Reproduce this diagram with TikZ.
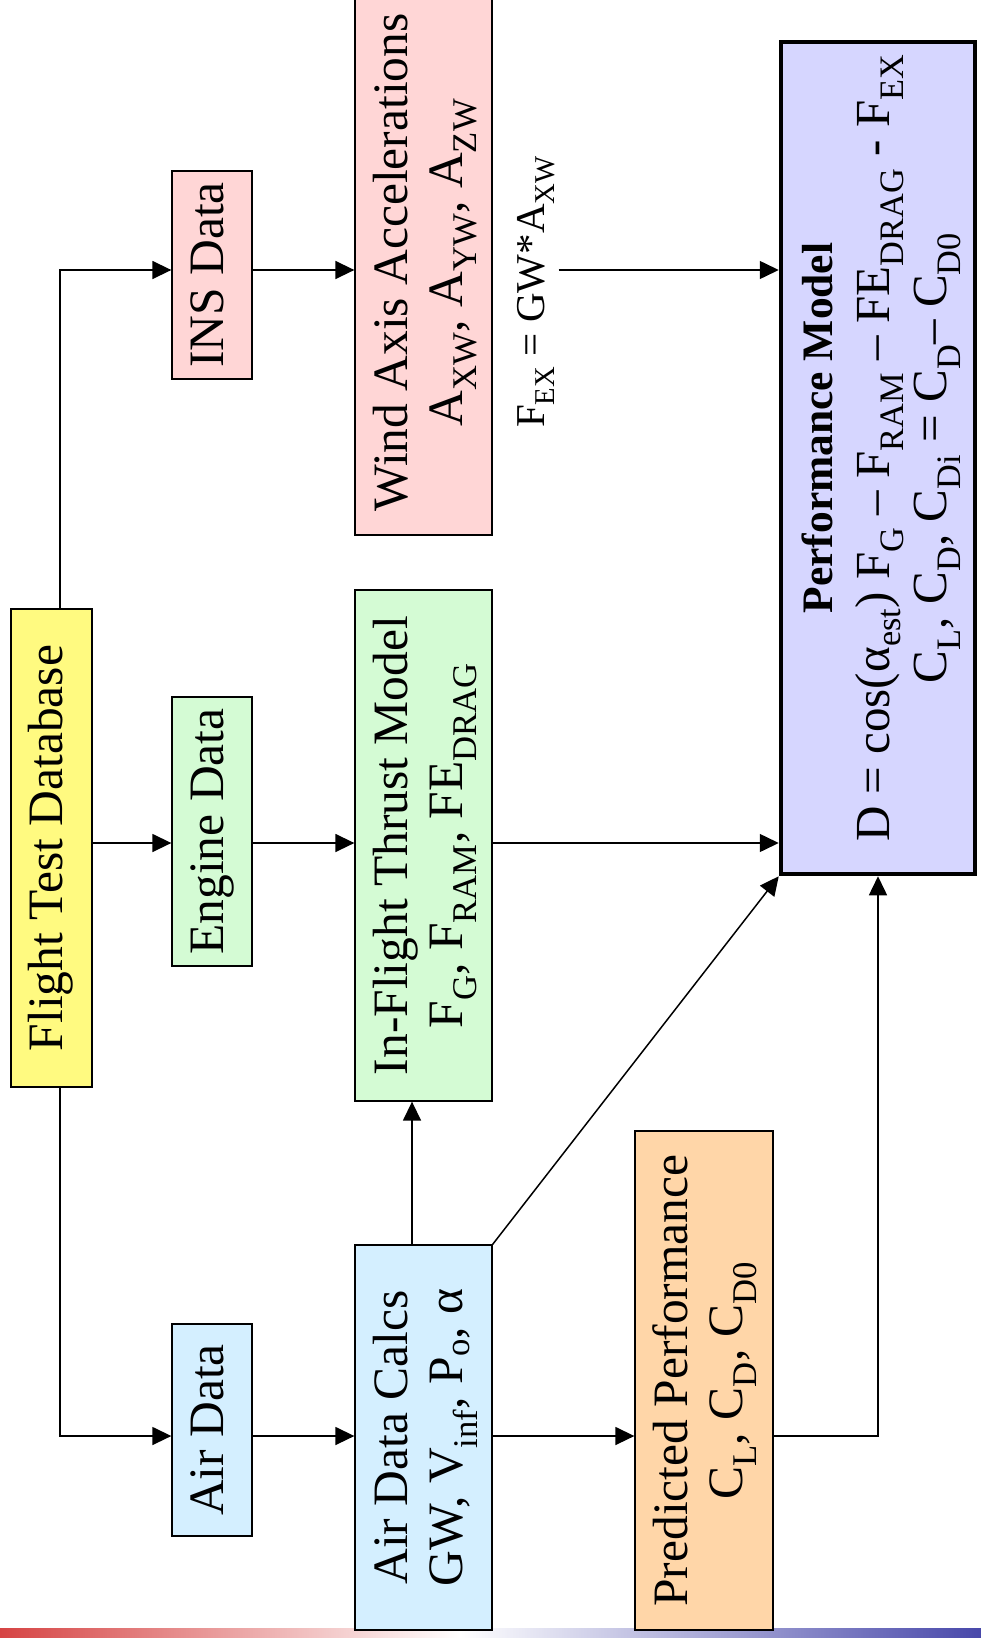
\documentclass[tikz,border=0pt]{standalone}
\usepackage{fontspec}
\setmainfont{Liberation Serif}
\usepackage{graphicx}
\usetikzlibrary{arrows.meta,calc}
\definecolor{cYellow}{RGB}{255,250,128}
\definecolor{cPink}{RGB}{255,214,214}
\definecolor{cGreen}{RGB}{212,251,212}
\definecolor{cBlue}{RGB}{212,239,255}
\definecolor{cPeach}{RGB}{255,214,168}
\definecolor{cLav}{RGB}{214,214,255}
\definecolor{barRed}{RGB}{214,68,68}
\definecolor{barBlue}{RGB}{72,72,170}
\newcommand\sbt[1]{\textsubscript{#1}}
\newcommand\vtext[1]{\rotatebox{90}{\begin{tabular}{@{}c@{}}#1\end{tabular}}}
\begin{document}
\begin{tikzpicture}[x=1pt,y=-1pt,
  box/.style={draw=black, line width=1.3pt, inner sep=0pt, font=\fontsize{49.5}{55}\selectfont},
  arr/.style={line width=1.5pt, -{Triangle[length=19pt,width=18pt]}}]
\useasboundingbox (0,0) rectangle (981,1638);
% bottom gradient bar
\shade[left color=barRed, right color=white] (0,1628) rectangle (460,1638);
\shade[left color=white, right color=barBlue] (460,1628) rectangle (981,1638);
% connector levels
\coordinate (ftdx) at (60,0);
\coordinate (adcx) at (412,0);
\coordinate (yIns) at (0,270);
\coordinate (yEng) at (0,843);
\coordinate (yAir) at (0,1436);
% boxes
\node[box, fill=cYellow, minimum width=81, minimum height=478] (FTD) at (51.5,848) {\vtext{Flight Test Database}};
\node[box, fill=cPink, minimum width=80, minimum height=208] (INS) at (212,275) {\vtext{INS Data}};
\node[box, fill=cGreen, minimum width=80, minimum height=269] (Eng) at (212,831.5) {\vtext{Engine Data}};
\node[box, fill=cBlue, minimum width=80, minimum height=212] (AirD) at (212,1430) {\vtext{Air Data}};
\node[box, fill=cPink, minimum width=137, minimum height=545] (Wind) at (423.5,262.5) {\vtext{Wind Axis Accelerations\\A\sbt{XW}, A\sbt{YW}, A\sbt{ZW}}};
\node[box, fill=cGreen, minimum width=137, minimum height=511] (IFT) at (423.5,845.5) {\vtext{In-Flight Thrust Model\\F\sbt{G}, F\sbt{RAM}, FE\sbt{DRAG}}};
\node[box, fill=cBlue, minimum width=137, minimum height=385] (ADC) at (423.5,1437.5) {\vtext{Air Data Calcs\\GW, V\sbt{inf}, P\sbt{o}, α}};
\node[box, fill=cPeach, minimum width=138, minimum height=499] (Pred) at (704,1380.5) {\vtext{Predicted Performance\\C\sbt{L}, C\sbt{D}, C\sbt{D0}}};
\node[box, fill=cLav, line width=4.5pt, minimum width=194, minimum height=832, font=\fontsize{49}{57}\selectfont] (Perf) at (878,458) {\vtext{\hspace*{60pt}{\fontsize{43.5}{50}\selectfont\bfseries Performance Model}\\\hspace*{20pt}D = cos(α\sbt{est}) F\sbt{G} – F\sbt{RAM} – FE\sbt{DRAG} - F\sbt{EX}\\C\sbt{L}, C\sbt{D}, C\sbt{Di} = C\sbt{D}– C\sbt{D0}}};
\node[inner sep=0pt, font=\fontsize{41}{47}\selectfont] (FEX) at (535,292) {\vtext{F\sbt{EX} = GW*A\sbt{XW}}};
% connectors
\draw[arr] (FTD.north -| ftdx) |- (INS.west |- yIns);
\draw[arr] (FTD.east |- yEng) -- (Eng.west |- yEng);
\draw[arr] (FTD.south -| ftdx) |- (AirD.west |- yAir);
\draw[arr] (INS.east |- yIns) -- (Wind.west |- yIns);
\draw[arr] (Eng.east |- yEng) -- (IFT.west |- yEng);
\draw[arr] (AirD.east |- yAir) -- (ADC.west |- yAir);
\draw[arr] (FEX.east |- yIns) -- (Perf.west |- yIns);
\draw[arr] (IFT.east |- yEng) -- (Perf.west |- yEng);
\draw[arr] (ADC.north -| adcx) -- (IFT.south -| adcx);
\draw[arr] (ADC.north east) -- (Perf.south west);
\draw[arr] (ADC.east |- yAir) -- (Pred.west |- yAir);
\draw[arr] (Pred.east |- yAir) -| (Perf.south);
\end{tikzpicture}
\end{document}
